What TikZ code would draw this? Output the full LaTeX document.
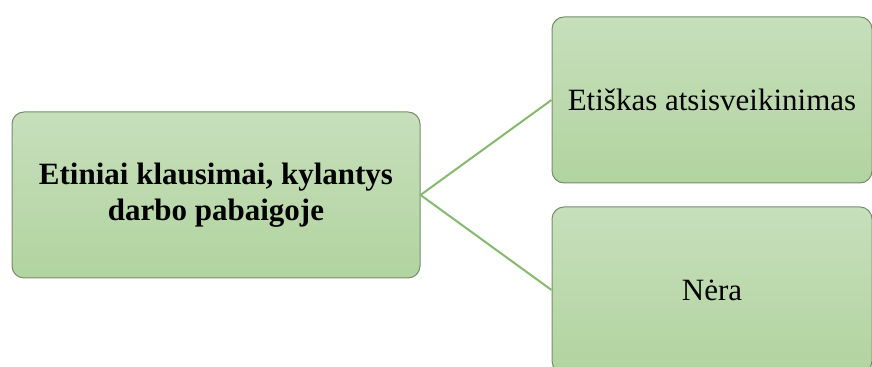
\documentclass[tikz,border=0pt]{standalone}
\usepackage{fontspec}
\setmainfont{Liberation Serif}
\usetikzlibrary{positioning}
\definecolor{boxtop}{RGB}{199,223,188}
\definecolor{boxbot}{RGB}{177,212,159}
\definecolor{boxline}{RGB}{118,140,108}
\definecolor{linkgreen}{RGB}{132,186,108}
\tikzset{
    tree/.style={x=0.5pt,y=0.5pt},
    topic/.style={rectangle, rounded corners=6pt, draw=boxline, line width=0.5pt,
                  top color=boxtop, bottom color=boxbot, minimum width=204pt,
                  minimum height=83pt, align=center, font=\fontsize{15.5}{18}\selectfont\bfseries},
    leaf/.style={topic, minimum width=160pt, font=\fontsize{15.5}{18}\selectfont},
    link/.style={draw=linkgreen, line width=1pt},
    }
\begin{document}
\begin{tikzpicture}[tree]
    \useasboundingbox (0,0) rectangle (872,367);
    \clip (0,0) rectangle (872,367);
    \node[topic] (root) at (216,172) {Etiniai klausimai, kylantys\\darbo pabaigoje};
    \node[leaf] (a1) at (712,267) {Etiškas atsisveikinimas};
    \node[leaf] (a2) at (712,77) {Nėra};

    \path[link] (root.east) edge (a1.west);
    \path[link] (root.east) edge (a2.west);
\end{tikzpicture}
\end{document}
